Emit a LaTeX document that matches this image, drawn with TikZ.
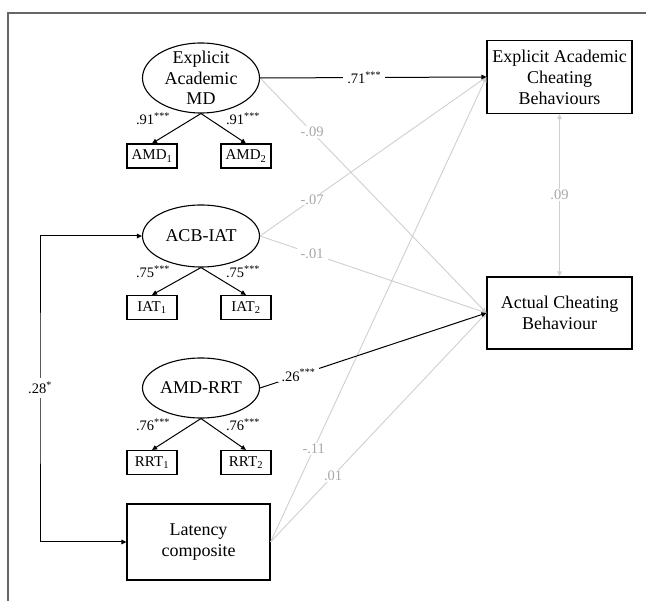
\documentclass[tikz,border=0pt]{standalone}
\usepackage{fontspec}
\setmainfont{Liberation Serif}
\usetikzlibrary{shapes.geometric,arrows.meta}
\definecolor{lgray}{HTML}{CFCFCF}
\definecolor{tgray}{HTML}{A8A8A8}
\definecolor{fgray}{HTML}{666666}
\begin{document}
\begin{tikzpicture}[x=1pt,y=-1pt,
  latent/.style={ellipse,draw,line width=1.1pt,minimum width=117pt,minimum height=70pt,inner sep=-12pt,font=\fontsize{18}{20.5}\selectfont,align=center},
  ind/.style={rectangle,draw,line width=1.1pt,minimum width=50pt,minimum height=24pt,inner sep=0pt,font=\fontsize{15}{17}\selectfont},
  outbox/.style={rectangle,draw,line width=1.1pt,minimum width=145pt,minimum height=73pt,inner sep=0pt,font=\fontsize{18}{21}\selectfont,align=center},
  tip/.style={-{Triangle[length=5pt,width=4.5pt]}},
  blk/.style={draw=black,line width=1pt,tip},
  gry/.style={draw=lgray,line width=0.9pt,tip},
  coef/.style={font=\fontsize{14.5}{16}\selectfont,inner xsep=4pt,inner ysep=1pt,fill=white},
  gcoef/.style={coef,text=tgray}
]
\useasboundingbox (0,0) rectangle (646,601);
\draw[fgray,line width=1.6pt] (8,601) -- (8,13) -- (646,13);

% latent variables
\node[latent] (eamd) at (201,78) {Explicit\\Academic\\MD};
\node[latent,minimum height=62pt] (acb) at (201,236) {ACB-IAT};
\node[latent,minimum height=60pt] (rrt) at (201,388) {AMD-RRT};

% indicators
\node[ind] (amd1) at (152,156) {AMD\textsubscript{1}};
\node[ind] (amd2) at (246,156) {AMD\textsubscript{2}};
\node[ind] (iat1) at (152,307.5) {IAT\textsubscript{1}};
\node[ind] (iat2) at (246,307.5) {IAT\textsubscript{2}};
\node[ind] (rrt1) at (152,462.5) {RRT\textsubscript{1}};
\node[ind] (rrt2) at (246,462.5) {RRT\textsubscript{2}};

% observed
\node[outbox] (eacb) at (559.5,77) {Explicit Academic\\Cheating\\Behaviours};
\node[outbox,minimum height=72pt] (acbh) at (559.5,313) {Actual Cheating\\Behaviour};
\node[outbox,minimum width=143pt,minimum height=76pt] (lat) at (198.5,542) {Latency\\composite};

% loadings
\draw[blk] (eamd.south) -- (amd1.north) node[coef,fill=none,pos=0.5,xshift=-23.5pt,yshift=9.5pt] {.91\textsuperscript{***}};
\draw[blk] (eamd.south) -- (amd2.north) node[coef,fill=none,pos=0.5,xshift=19.5pt,yshift=9.5pt] {.91\textsuperscript{***}};
\draw[blk] (acb.south) -- (iat1.north) node[coef,fill=none,pos=0.5,xshift=-23.5pt,yshift=9.5pt] {.75\textsuperscript{***}};
\draw[blk] (acb.south) -- (iat2.north) node[coef,fill=none,pos=0.5,xshift=19.5pt,yshift=9.5pt] {.75\textsuperscript{***}};
\draw[blk] (rrt.south) -- (rrt1.north) node[coef,fill=none,pos=0.5,xshift=-23.5pt,yshift=9.5pt] {.76\textsuperscript{***}};
\draw[blk] (rrt.south) -- (rrt2.north) node[coef,fill=none,pos=0.5,xshift=19.5pt,yshift=9.5pt] {.76\textsuperscript{***}};

% structural paths (gray first)
\draw[gry] (eamd.east) -- (acbh.west) node[gcoef,pos=0.23] {-.09};
\draw[gry] (acb.east) -- (eacb.west) node[gcoef,pos=0.23] {-.07};
\draw[gry] (acb.east) -- (acbh.west) node[gcoef,pos=0.23] {-.01};
\draw[gry] (lat.east) -- (eacb.west) node[gcoef,pos=0.2] {-.11};
\draw[gry] (lat.east) -- (acbh.west) node[gcoef,pos=0.29] {.01};
\draw[gry,{Triangle[length=5pt,width=4.5pt]}-{Triangle[length=5pt,width=4.5pt]}] (eacb.south) -- (acbh.north) node[gcoef,midway] {.09};

\draw[blk] (eamd.east) -- (eacb.west) node[coef,pos=0.46] {.71\textsuperscript{***}};
\draw[blk] (rrt.east) -- (acbh.west) node[coef,pos=0.17] {.26\textsuperscript{***}};

% covariance
\coordinate (brk) at (40,388);
\draw[blk,{Triangle[length=5pt,width=4.5pt]}-{Triangle[length=5pt,width=4.5pt]}] (acb.west) -| (brk) |- (lat.west);
\node[coef,inner xsep=1pt,inner ysep=4pt] (l28) at (brk) {.28\textsuperscript{*}};
\end{tikzpicture}
\end{document}
